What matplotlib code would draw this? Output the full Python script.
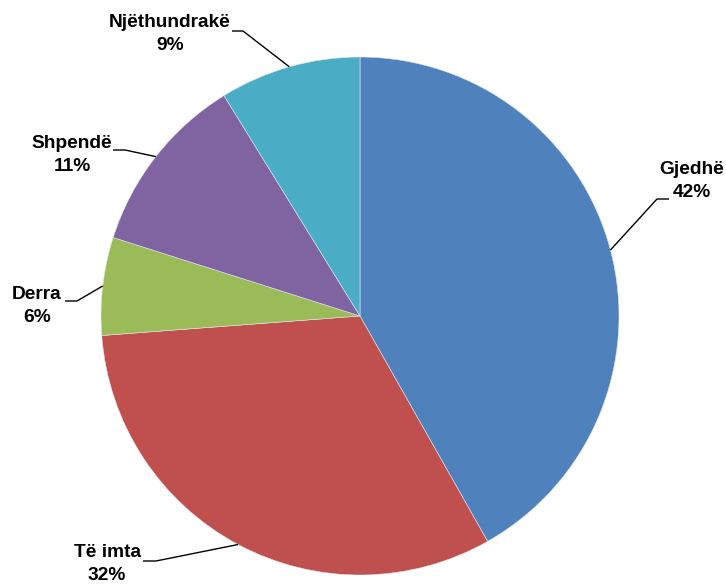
import numpy as np
import matplotlib.pyplot as plt

# Data
labels = ["Gjedhë", "Të imta", "Derra", "Shpendë", "Njëthundrakë"]
values = [41.8, 32.0, 6.1, 11.3, 8.8]
colors = ["#4F81BD", "#C0504D", "#9BBB59", "#8064A2", "#4BACC6"]

# label layout (pixel coords, y from top): text centre and elbow of leader
text_pos = [(692, 181), (107, 564), (37, 306), (72, 155), (170, 34)]
elbow_pos = [((669, 199), (657, 199)),
             ((143, 561), (156, 561)),
             ((65, 301), (77, 301)),
             ((113, 150), (125, 150)),
             ((232, 31), (243, 31))]

W, H = 726, 585
CX, CY, R = 360, 316, 259

plt.rcParams['font.family'] = ['Liberation Sans', 'DejaVu Sans']

fig = plt.figure(figsize=(W / 100, H / 100), dpi=100)
ax = fig.add_axes([0, 0, 1, 1])

wedges, _ = ax.pie(values, colors=colors, startangle=90, counterclock=False,
                   center=(CX, H - CY), radius=R, frame=True,
                   wedgeprops=dict(edgecolor='#dde6f0', linewidth=0.4))
ax.set_xlim(0, W)
ax.set_ylim(0, H)
ax.axis('off')

total = sum(values)
for w, lab, val, tp, (e0, e1) in zip(wedges, labels, values, text_pos, elbow_pos):
    mid = np.deg2rad((w.theta1 + w.theta2) / 2)
    px = CX + R * np.cos(mid)
    py = (H - CY) + R * np.sin(mid)
    xs = [e0[0], e1[0], px]
    ys = [H - e0[1], H - e1[1], py]
    ax.plot(xs, ys, color='black', lw=1.0, solid_capstyle='butt')
    ax.text(tp[0], H - tp[1], f"{lab}\n{val / total * 100:.0f}%",
            ha='center', va='center', multialignment='center',
            fontsize=13.8, fontweight='bold', linespacing=1.4)

fig.savefig("out.png", dpi=100)
